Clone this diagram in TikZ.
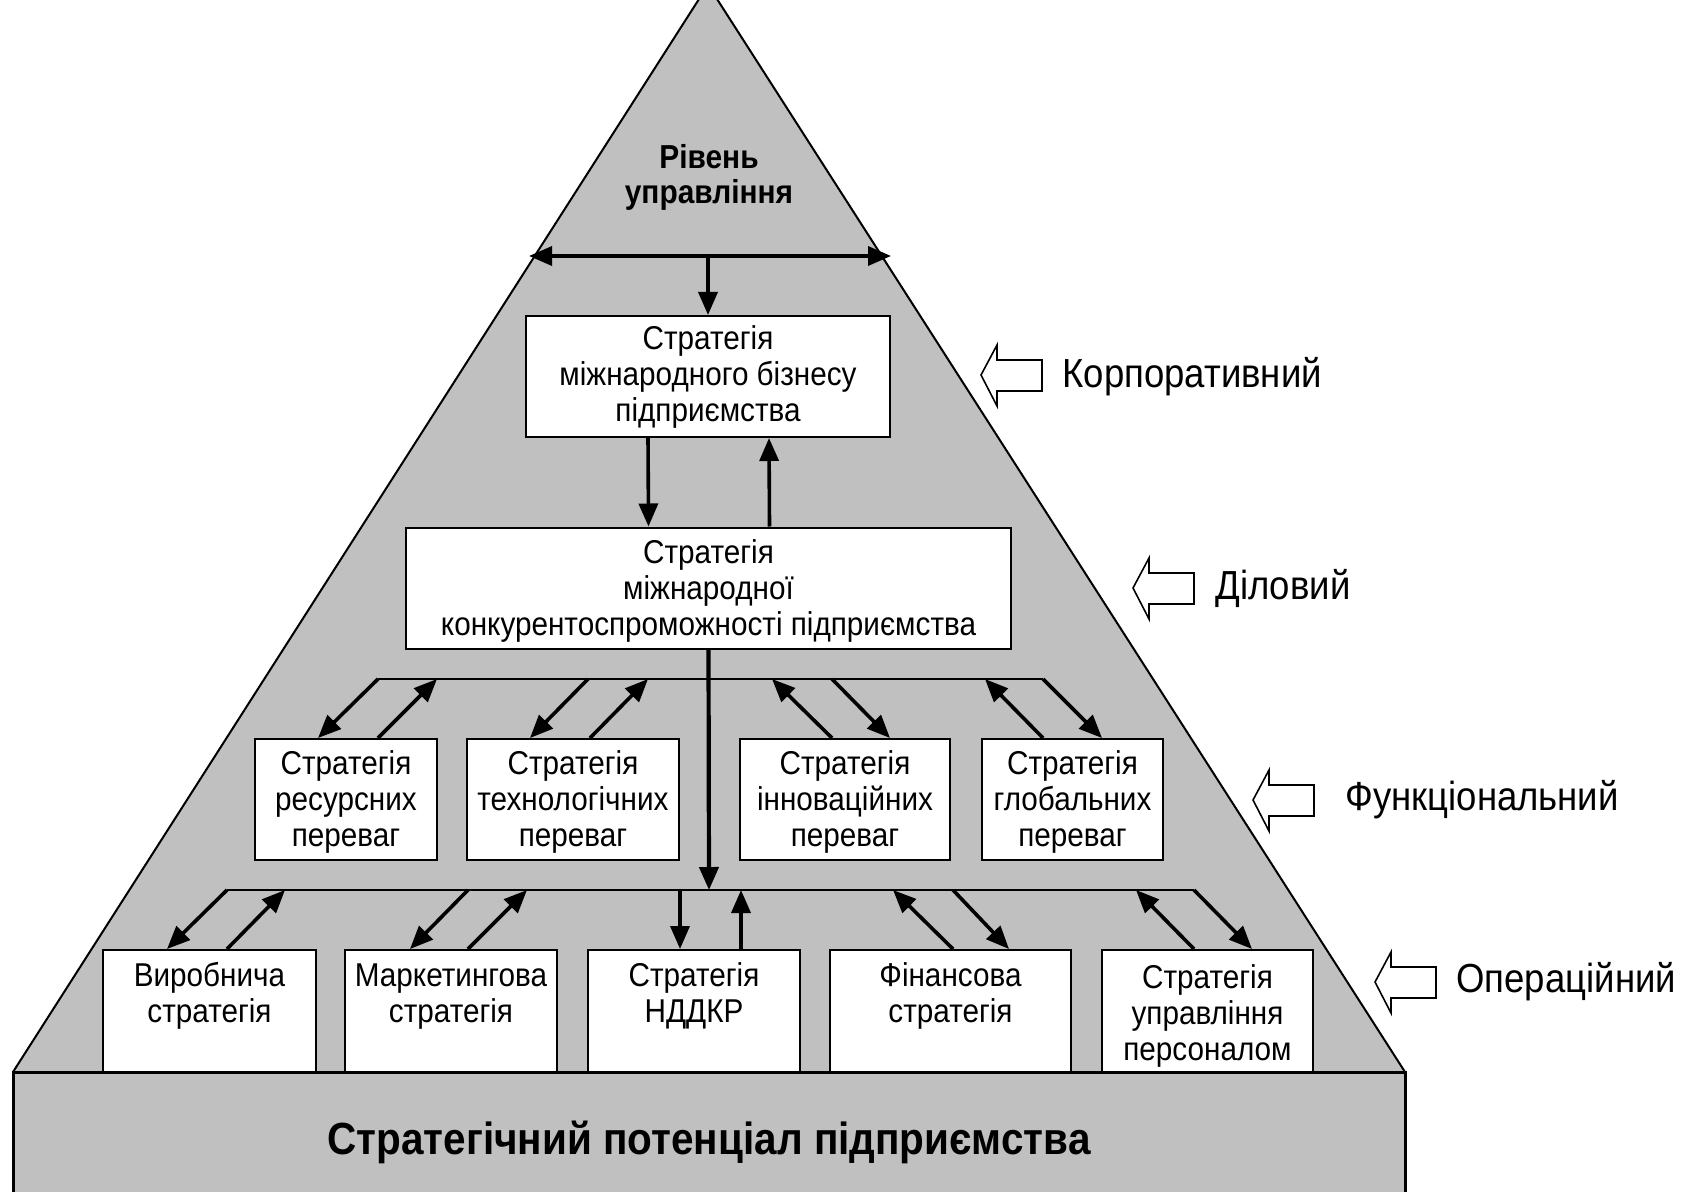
\documentclass[tikz,border=0pt]{standalone}
\usepackage{fontspec}
\setmainfont{Liberation Sans}[FakeStretch=0.9]
\usetikzlibrary{arrows.meta}
\definecolor{pyramidgray}{RGB}{192,192,192}
% invisible strut that sets the height of a box's first text line
\newcommand\firstline[1]{\rule{0pt}{#1}}

\begin{document}
\begin{tikzpicture}[x=0.5pt,y=-0.5pt,
  box/.style={draw=black,line width=1pt,fill=white,inner sep=0pt,align=center,
    font=\fontsize{16.5}{18}\selectfont,minimum height=60.5pt},
  tip/.style={-{Triangle[length=11.5pt,width=9.5pt]}},
  link/.style={line width=1.8pt,tip},
  rail/.style={line width=1.3pt},
  levelname/.style={anchor=mid west,inner sep=0pt,font=\fontsize{20.3}{24}\selectfont},
  levelmark/.pic={\draw[line width=0.8pt,fill=white]
    (0,0) -- (16,-30) -- (16,-15) -- (61,-15) -- (61,16) -- (16,16) -- (16,31) -- cycle;},
]
\useasboundingbox (0,0) rectangle (1684,1192);
\fill[white] (0,0) rectangle (1684,1192);
\clip (0,0) rectangle (1684,1192);

% pyramid body
\fill[pyramidgray] (708,-15) -- (1405,1072) -- (13,1072) -- cycle;
\draw[line width=1pt] (13,1072) -- (708,-15) -- (1405,1072);

% foundation block
\node[draw,line width=1.5pt,fill=pyramidgray,inner sep=0pt,
  minimum width=696pt,minimum height=70pt,
  font=\bfseries\fontsize{22.5}{26}\selectfont] (base) at (709,1142)
  {Стратегічний потенціал підприємства};

% apex title
\node[inner sep=0pt,align=center,font=\bfseries\fontsize{16.6}{17.5}\selectfont]
  (title) at (709,177) {Рівень\\управління};

% strategy boxes
\node[box,minimum width=182pt] (corp) at (708,376.5)
  {\firstline{12.6pt}Стратегія\\міжнародного бізнесу\\підприємства};
\node[box,minimum width=302.5pt] (biz) at (708.5,588)
  {\firstline{15pt}Стратегія\\міжнародної\\конкурентоспроможності підприємства};

\node[box,minimum width=91pt]   (f1) at (346,799.5)
  {\firstline{14.2pt}Стратегія\\ресурсних\\переваг};
\node[box,minimum width=106pt]  (f2) at (573,799.5)
  {\firstline{14.2pt}Стратегія\\технологічних\\переваг};
\node[box,minimum width=105pt]  (f3) at (845,799.5)
  {\firstline{14.2pt}Стратегія\\інноваційних\\переваг};
\node[box,minimum width=90.5pt] (f4) at (1072.5,799.5)
  {\firstline{14.2pt}Стратегія\\глобальних\\переваг};

\node[box,minimum width=106.5pt,minimum height=61pt] (o1) at (209.5,1011)
  {\firstline{16.8pt}Виробнича\\стратегія\\\strut};
\node[box,minimum width=106pt,minimum height=61pt]   (o2) at (451,1011)
  {\firstline{16.8pt}Маркетингова\\стратегія\\\strut};
\node[box,minimum width=106pt,minimum height=61pt]   (o3) at (694,1011)
  {\firstline{16.8pt}Стратегія\\НДДКР\\\strut};
\node[box,minimum width=120.5pt,minimum height=61pt] (o4) at (950.5,1011)
  {\firstline{16.8pt}Фінансова\\стратегія\\\strut};
\node[box,minimum width=105.5pt,minimum height=61pt] (o5) at (1207.5,1011)
  {\firstline{16.8pt}Стратегія\\управління\\персоналом};

% top distribution arrow
\coordinate (hl) at (529,256);
\coordinate (hr) at (891,256);
\coordinate (hm) at (708,256);
\draw[line width=1.8pt,{Triangle[length=11.5pt,width=9.5pt]}-{Triangle[length=11.5pt,width=9.5pt]}] (hl) -- (hr);
\draw[link] (hm) -- (corp.north);

% corporate <-> business
\draw[link] ([xshift=-30pt]corp.south) -- ([xshift=-30pt]biz.north);
\draw[link] ([xshift=30.5pt]biz.north) -- ([xshift=30.5pt]corp.south);

% functional rail
\coordinate (f1a) at (378,679);  \coordinate (f1b) at (437,679);
\coordinate (f2a) at (588,679);  \coordinate (f2b) at (648,679);
\coordinate (f3a) at (772,679);  \coordinate (f3b) at (832,679);
\coordinate (f4a) at (985,679);  \coordinate (f4b) at (1043,679);
\draw[rail] (f1a) -- (f4b);

% operational rail
\coordinate (o1a) at (227,890);  \coordinate (o1b) at (285,890);
\coordinate (o2a) at (468,890);  \coordinate (o2b) at (527,890);
\coordinate (o3a) at (680,890);  \coordinate (o3b) at (741,890);
\coordinate (o4a) at (893,890);  \coordinate (o4b) at (953,890);
\coordinate (o5a) at (1136,890); \coordinate (o5b) at (1194,890);
\coordinate (obus) at (709,890);
\draw[rail] (o1a) -- (o5b);

% business down to operational rail
\draw[link,line width=2.1pt] (biz.south) -- (obus);

% functional links
\draw[link] (f1a) -- ([xshift=-14pt]f1.north);
\draw[link] ([xshift=16pt]f1.north) -- (f1b);
\draw[link] (f2a) -- ([xshift=-21.5pt]f2.north);
\draw[link] ([xshift=8.5pt]f2.north) -- (f2b);
\draw[link] ([xshift=-6.5pt]f3.north) -- (f3a);
\draw[link] (f3b) -- ([xshift=22.5pt]f3.north);
\draw[link] ([xshift=-14.75pt]f4.north) -- (f4a);
\draw[link] (f4b) -- ([xshift=14.75pt]f4.north);

% operational links
\draw[link] (o1a) -- ([xshift=-21.25pt]o1.north);
\draw[link] ([xshift=8.75pt]o1.north) -- (o1b);
\draw[link] (o2a) -- ([xshift=-20.5pt]o2.north);
\draw[link] ([xshift=8.5pt]o2.north) -- (o2b);
\draw[link] (o3a) -- ([xshift=-7pt]o3.north);
\draw[link] ([xshift=23.5pt]o3.north) -- (o3b);
\draw[link] ([xshift=1.25pt]o4.north) -- (o4a);
\draw[link] (o4b) -- ([xshift=29.25pt]o4.north);
\draw[link] ([xshift=-6.75pt]o5.north) -- (o5a);
\draw[link] (o5b) -- ([xshift=22.25pt]o5.north);

% level markers
\pic at (981,375)  {levelmark};
\node[levelname] (lv1) at (1062,382) {Корпоративний};
\pic at (1133,588) {levelmark};
\node[levelname] (lv2) at (1215,594) {Діловий};
\pic at (1253,800) {levelmark};
\node[levelname] (lv3) at (1345,805) {Функціональний};
\pic at (1375,982) {levelmark};
\node[levelname] (lv4) at (1456,987) {Операційний};
\end{tikzpicture}
\end{document}
